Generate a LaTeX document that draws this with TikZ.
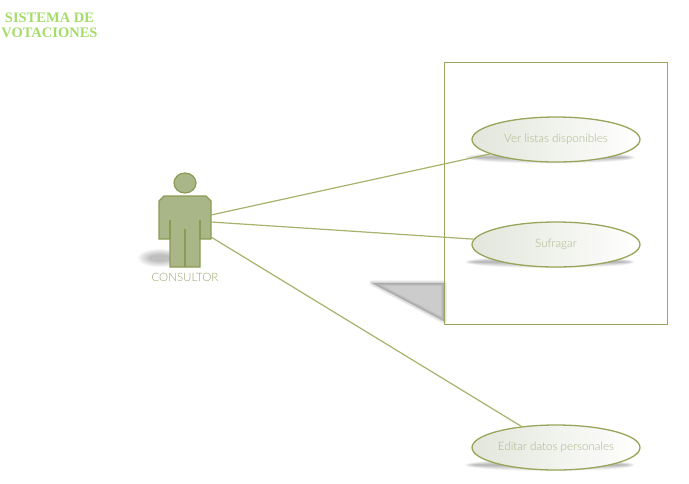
\documentclass[tikz,border=0pt]{standalone}
\usepackage{fontspec}
\setmainfont{Lato Light}
\newfontfamily\titlefont{Liberation Serif}
\usetikzlibrary{shapes.geometric}
\definecolor{linegreen}{HTML}{A8B26C}
\definecolor{edgegreen}{HTML}{98A55A}
\definecolor{actorfill}{HTML}{A9B687}
\definecolor{actoredge}{HTML}{8C9A55}
\definecolor{labelgreen}{HTML}{AAB688}
\definecolor{consgreen}{HTML}{96A36C}
\definecolor{titlegreen}{HTML}{A4DC6A}
\definecolor{shadefill}{HTML}{E2E6DB}
\definecolor{shademid}{HTML}{F3F5F0}
\tikzset{
  usecase/.style={ellipse,draw=edgegreen,line width=1.3pt,minimum width=168pt,minimum height=45pt,inner sep=0pt,left color=shadefill,middle color=shademid,right color=white,text=labelgreen,font=\fontsize{11.6}{13}\selectfont},
  caselabel/.style={text=labelgreen,font=\fontsize{11.6}{13}\selectfont,inner sep=0pt},
  conn/.style={draw=linegreen,line width=1.2pt},
  actorpart/.style={draw=actoredge,fill=actorfill,line width=1.2pt},
  seam/.style={draw=actoredge,line width=1.2pt},
  sysbox/.style={draw=edgegreen,line width=1.2pt},
  softshadow/.style={fill=black,opacity=0.04,draw=none}
}
\newcommand{\softell}[4]{%
  \foreach \k in {0,...,7}{
    \fill[softshadow] (#1,#2) ellipse ({#3-\k*1.3} and {#4-\k*0.7});
  }}
\begin{document}
\begin{tikzpicture}[x=1pt,y=-1pt]
\useasboundingbox (0,0) rectangle (689,483);
% system box shadow
\foreach \w in {6,5,4,3,2,1,0.2}{
  \path[fill=black,draw=black,opacity=0.03,line width=\w pt,line join=round] (372,283) -- (444,283) -- (444,321) -- cycle;
}
% shadows
\softell{550}{157.5}{85}{6}
\softell{550}{262}{85}{6}
\softell{550}{465}{85}{6}
\foreach \k in {0,...,7}{
  \fill[black,opacity=0.035] (160,258) ellipse ({22-\k*1.6} and {9-\k*0.8});
}
% system box
\node[sysbox,minimum width=223pt,minimum height=262pt,inner sep=0pt,anchor=north west] (sys) at (443.5,62) {};
% use cases
\node[usecase] (ver) at (556,139.5) {\raisebox{-1pt}{Ver listas disponibles}};
\node[usecase] (suf) at (556,244.5) {\raisebox{-1pt}{Sufragar}};
\node[usecase] (edi) at (556,447.5) {\raisebox{-1pt}{Editar datos personales}};
% actor
\node[ellipse,actorpart,minimum width=22pt,minimum height=20pt,inner sep=0pt] (head) at (185,183) {};
\draw[actorpart] (164,196) -- (206,196) -- (211,201) -- (211,239) -- (200,239) -- (200,267) -- (170,267) -- (170,239) -- (159,239) -- (159,201) -- cycle;
\draw[seam] (170,220) -- (170,239);
\draw[seam] (200,220) -- (200,239);
\draw[seam] (185,229) -- (185,267);
\coordinate (a1) at (211,215);
\coordinate (a2) at (211,222);
\coordinate (a3) at (211,237);
\node[text=consgreen,font=\fontsize{11.5}{13}\selectfont,inner sep=0pt] (cons) at (185,277.5) {CONSULTOR};
% connectors
\draw[conn] (a1) -- (ver);
\draw[conn] (a2) -- (suf);
\draw[conn] (a3) -- (edi);
% title
\node[text=titlegreen,font=\titlefont\bfseries\fontsize{14.5}{16}\selectfont,inner sep=0pt] (t1) at (49.5,18) {SISTEMA DE};
\node[text=titlegreen,font=\titlefont\bfseries\fontsize{14.5}{16}\selectfont,inner sep=0pt] (t2) at (49.5,33) {VOTACIONES};
\end{tikzpicture}
\end{document}
